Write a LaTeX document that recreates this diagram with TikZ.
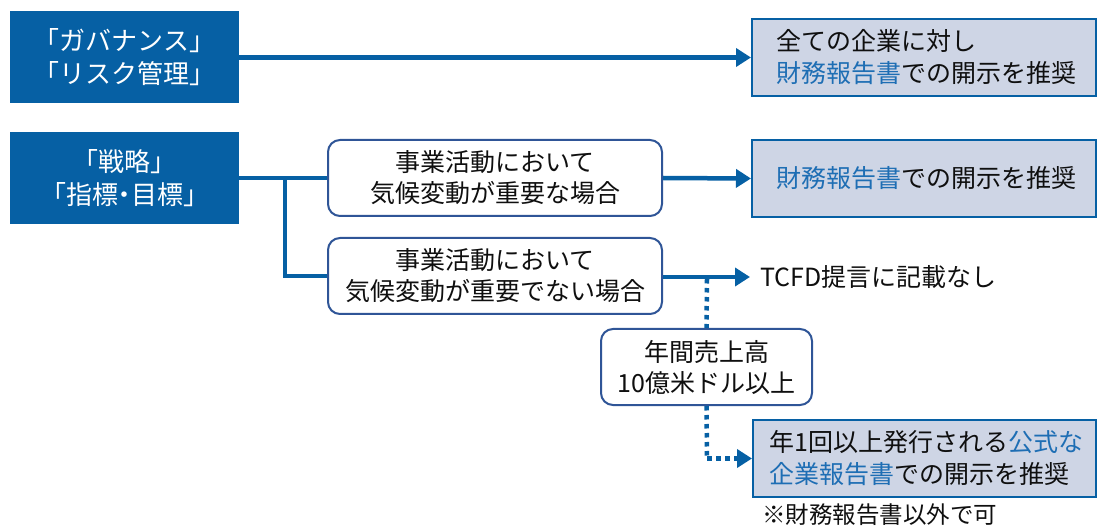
\documentclass[tikz,border=0pt]{standalone}
\usepackage{fontspec}
\setmainfont{Noto Sans CJK JP}
\usetikzlibrary{arrows.meta,positioning}
\definecolor{dblue}{RGB}{6,96,164}
\definecolor{bord}{RGB}{47,85,151}
\definecolor{lfill}{RGB}{206,213,229}
\definecolor{hl}{RGB}{30,110,180}
\definecolor{txt}{RGB}{15,15,15}
\newcommand{\lbr}{\makebox[0.55em][r]{「}}
\newcommand{\rbr}{\makebox[0.55em][l]{」}}
\newcommand{\hdot}{\makebox[0.5em][c]{・}}
\tikzset{
  x=1pt, y=-1pt,
  every node/.style={font=\fontsize{25}{31}\selectfont, text=txt},
  pillar/.style={rectangle, fill=dblue, text=white, minimum width=229pt, minimum height=92pt, align=center, inner sep=0pt, font=\fontsize{26}{33}\selectfont},
  cond/.style={rectangle, rounded corners=12pt, draw=bord, line width=2pt, fill=white, align=center, inner sep=0pt},
  result/.style={rectangle, draw=dblue, line width=2.4pt, fill=lfill, align=left, anchor=west, inner sep=0pt, minimum height=77pt, font=\fontsize{25}{32}\selectfont},
  conn/.style={draw=dblue, line width=4.5pt},
  arr/.style={conn, -{Triangle[length=15pt,width=18pt]}},
  dots/.style={draw=dblue, line width=4.5pt, dash pattern=on 4.5pt off 4.5pt},
}
\begin{document}
\begin{tikzpicture}
\useasboundingbox (0,0) rectangle (1097,526);
% left pillars
\node[pillar] (gov) at (124.5,57) {\lbr ガバナンス\rbr\\\lbr リスク管理\rbr};
\node[pillar] (strat) at (124.5,178) {\lbr 戦略\rbr\\\lbr 指標\hdot 目標\rbr};
% condition boxes
\node[cond, minimum width=334pt, minimum height=76pt] (c1) at (495,178) {事業活動において\\気候変動が重要な場合};
\node[cond, minimum width=334pt, minimum height=76pt] (c2) at (495,276) {事業活動において\\気候変動が重要でない場合};
\node[cond, minimum width=211pt, minimum height=76pt] (s) at (706.5,367) {年間売上高\\10億米ドル以上};
% result boxes
\node[result, minimum width=344pt, text width=320pt, inner xsep=12pt] (r1) at (751,57.5) {\hspace*{12pt}全ての企業に対し\\\hspace*{12pt}\textcolor{hl}{財務報告書}での開示を推奨};
\node[result, minimum width=344pt, text width=320pt, inner xsep=12pt] (r2) at (751,178.5) {\hspace*{12pt}\textcolor{hl}{財務報告書}での開示を推奨};
\node[result, minimum width=343pt, text width=327pt, inner xsep=8pt] (r3) at (752,458.5) {\hspace*{8pt}年1回以上発行される\textcolor{hl}{公式な}\\\hspace*{8pt}\textcolor{hl}{企業報告書}での開示を推奨};
\node[anchor=west, inner xsep=10pt, inner ysep=0pt] (tcfd) at (750,277) {TCFD提言に記載なし};
\node[anchor=west, inner sep=0pt, font=\fontsize{23.5}{30}\selectfont] (note) at (762,515) {※財務報告書以外で可};
% connectors
\draw[arr] (gov.east |- r1.west) -- (r1.west);
\draw[conn] (strat.east) -- (c1.west);
\coordinate (j) at (285,178);
\draw[conn] (j) |- (c2.west);
\draw[arr] (c1.east) -- (r2.west);
\draw[arr] (c2.east |- tcfd.west) -- (tcfd.west);
\coordinate (d1) at (707,279);
\coordinate (d2) at (707,458.5);
\draw[dots] (d1) -- (s.north);
\draw[dots] (s.south) -- (d2);
\draw[dots, -{Triangle[length=15pt,width=18pt]}] (d2) -- (r3.west);
\end{tikzpicture}
\end{document}
